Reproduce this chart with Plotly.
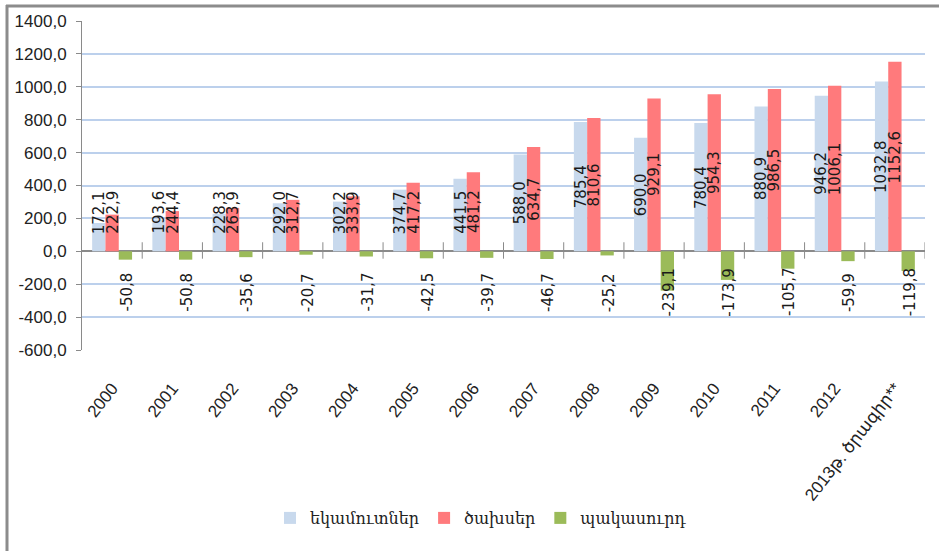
import plotly.graph_objects as go

CATEGORIES = ["2000", "2001", "2002", "2003", "2004", "2005", "2006", "2007",
              "2008", "2009", "2010", "2011", "2012", "2013թ. ծրագիր**"]
REVENUES = [172.1, 193.6, 228.3, 292.0, 302.2, 374.7, 441.5, 588.0,
            785.4, 690.0, 780.4, 880.9, 946.2, 1032.8]
EXPENDITURES = [222.9, 244.4, 263.9, 312.7, 333.9, 417.2, 481.2, 634.7,
                810.6, 929.1, 954.3, 986.5, 1006.1, 1152.6]
DEFICIT = [-50.8, -50.8, -35.6, -20.7, -31.7, -42.5, -39.7, -46.7,
           -25.2, -239.1, -173.9, -105.7, -59.9, -119.8]
SERIES_NAMES = ["եկամուտներ", "ծախսեր", "պակասուրդ"]
Y_TICKS = [-600, -400, -200, 0, 200, 400, 600, 800, 1000, 1200, 1400]
Y_TICK_LABELS = ["-600,0", "-400,0", "-200,0", "0,0", "200,0", "400,0",
                 "600,0", "800,0", "1000,0", "1200,0", "1400,0"]

COLORS = ["#c8d9ed", "#ff7a7c", "#9bbb59"]
W, H = 939, 551
ML, MR, MT, MB = 82, 14, 21, 201
BARGAP = 0.337
Y_RANGE = [-600, 1400]

xs = list(range(len(CATEGORIES)))


def fmt(v):
    return f"{v:.1f}".replace(".", ",")


fig = go.Figure()
for name, vals, col in zip(SERIES_NAMES, [REVENUES, EXPENDITURES, DEFICIT], COLORS):
    fig.add_trace(go.Bar(x=xs, y=vals, name=name, marker=dict(color=col, line=dict(width=0))))

plot_h = H - MT - MB
px_per_unit = plot_h / (Y_RANGE[1] - Y_RANGE[0])
bar_w = (1 - BARGAP) / 3
offsets = [-bar_w, 0.0, bar_w]
label_font = dict(family="DejaVu Sans", size=15, color="#1a1a1a")


def text_len_px(s):
    return sum(9.5 if c.isdigit() else 5.5 for c in s)


annotations = []
min_bottom = 17 / px_per_unit
for k, vals in enumerate([REVENUES, EXPENDITURES]):
    for i, v in enumerate(vals):
        t = fmt(v)
        half = text_len_px(t) / 2 / px_per_unit
        yc = max(v / 2, min_bottom + half)
        annotations.append(dict(x=xs[i] + offsets[k], y=yc, xref="x", yref="y", text=t,
                                textangle=-90, showarrow=False, font=label_font,
                                xanchor="center", yanchor="middle"))
deficit_label_center = -41 / px_per_unit
for i, v in enumerate(DEFICIT):
    annotations.append(dict(x=xs[i] + offsets[2] + 0.03, y=deficit_label_center, xref="x", yref="y",
                            text=fmt(v), textangle=-90, showarrow=False, font=label_font,
                            xanchor="center", yanchor="middle"))

shapes = []
for i in range(1, len(CATEGORIES) + 1):
    shapes.append(dict(type="line", xref="x", yref="y", x0=i - 0.5, x1=i - 0.5,
                       y0=-45, y1=55, line=dict(color="#8a8a8a", width=1)))

plot_w = W - ML - MR
fx = lambda p: (p - ML) / plot_w
fy = lambda p: (H - MB - p) / plot_h
shapes.append(dict(type="line", xref="paper", yref="paper", x0=fx(6), x1=fx(945),
                   y0=fy(6), y1=fy(6), line=dict(color="#8c8c8c", width=3)))
shapes.append(dict(type="line", xref="paper", yref="paper", x0=fx(7), x1=fx(7),
                   y0=fy(5), y1=fy(560), line=dict(color="#8c8c8c", width=3)))

tick_font = dict(family="Liberation Sans, DejaVu Sans", size=17, color="#222222")

fig.update_layout(
    width=W, height=H,
    margin=dict(l=ML, r=MR, t=MT, b=MB, autoexpand=False),
    paper_bgcolor="white", plot_bgcolor="white",
    barmode="group", bargap=BARGAP, bargroupgap=0,
    showlegend=True,
    legend=dict(orientation="h", x=fx(481), xanchor="center", y=fy(518), yanchor="middle",
                font=dict(family="DejaVu Serif", size=16, color="#222222"),
                traceorder="normal", itemwidth=30),
    annotations=annotations,
    shapes=shapes,
    xaxis=dict(range=[-0.5, len(CATEGORIES) - 0.5], tickvals=xs, ticktext=CATEGORIES,
               tickangle=-52, tickfont=tick_font, showgrid=False, zeroline=False,
               showline=False, ticks="", ticklabelstandoff=24),
    yaxis=dict(range=Y_RANGE, tickvals=Y_TICKS, ticktext=Y_TICK_LABELS, tickfont=tick_font,
               showgrid=True, gridcolor="#bcd0ec", gridwidth=2,
               zeroline=True, zerolinecolor="#8a8a8a", zerolinewidth=1.5,
               showline=True, linecolor="#8a8a8a", linewidth=1,
               ticks="outside", ticklen=5, tickcolor="#8a8a8a", ticklabelstandoff=6),
)

fig.write_html("out.html", config={"displayModeBar": False},
               post_script="document.body.style.margin='0';")
